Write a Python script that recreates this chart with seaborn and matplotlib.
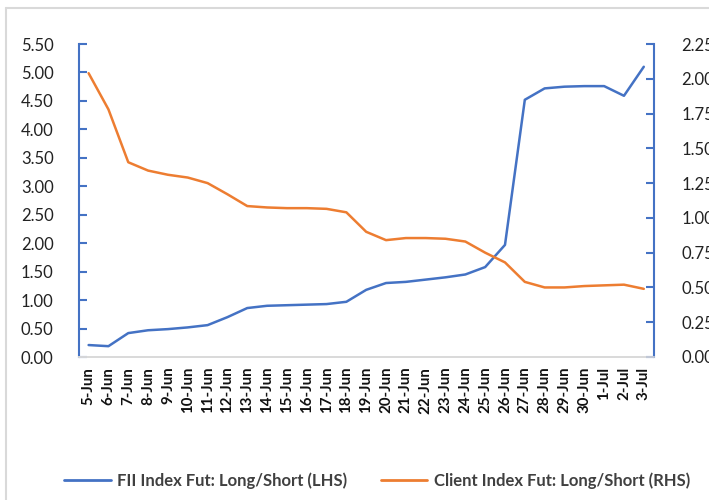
import matplotlib
matplotlib.use('Agg')
import pandas as pd
import matplotlib.pyplot as plt
import seaborn as sns
from matplotlib.lines import Line2D

dates = ['5-Jun', '6-Jun', '7-Jun', '8-Jun', '9-Jun', '10-Jun', '11-Jun', '12-Jun',
         '13-Jun', '14-Jun', '15-Jun', '16-Jun', '17-Jun', '18-Jun', '19-Jun', '20-Jun',
         '21-Jun', '22-Jun', '23-Jun', '24-Jun', '25-Jun', '26-Jun', '27-Jun', '28-Jun',
         '29-Jun', '30-Jun', '1-Jul', '2-Jul', '3-Jul']

fii = [0.21, 0.19, 0.42, 0.47, 0.49, 0.52, 0.56, 0.70, 0.86, 0.90, 0.91, 0.92, 0.93,
       0.97, 1.18, 1.30, 1.32, 1.36, 1.40, 1.45, 1.58, 1.97, 4.52, 4.72, 4.75, 4.76,
       4.76, 4.59, 5.10]

client = [2.04, 1.78, 1.40, 1.34, 1.31, 1.29, 1.25, 1.17, 1.085, 1.075, 1.07, 1.07,
          1.065, 1.04, 0.90, 0.84, 0.855, 0.855, 0.85, 0.83, 0.75, 0.68, 0.54, 0.50,
          0.50, 0.51, 0.515, 0.52, 0.49]

fii_label = 'FII Index Fut: Long/Short (LHS)'
client_label = 'Client Index Fut: Long/Short (RHS)'

df = pd.DataFrame({'date': dates, 'fii': fii, 'client': client})
df['pos'] = range(len(df))

sns.set_style('white')
plt.rcParams['font.family'] = ['Lato', 'DejaVu Sans']

blue = '#4472C4'
orange = '#ED7D31'
grey = '#D9D9D9'

fig = plt.figure(figsize=(7.09, 5.0), dpi=100)
ax = fig.add_axes([0.111, 0.286, 0.811, 0.626])
ax2 = ax.twinx()

sns.lineplot(data=df, x='pos', y='fii', ax=ax, color=blue, linewidth=1.8)
sns.lineplot(data=df, x='pos', y='client', ax=ax2, color=orange, linewidth=1.8)

n = len(dates)
ax.set_xlim(-0.5, n - 0.5)
ax.set_ylim(0, 5.5)
ax2.set_ylim(0, 2.25)
ax.set_yticks([i * 0.5 for i in range(12)])
ax2.set_yticks([i * 0.25 for i in range(10)])
ax.set_yticklabels([f'{i * 0.5:.2f}' for i in range(12)], fontsize=12, color='#222222')
ax2.set_yticklabels([f'{i * 0.25:.2f}' for i in range(10)], fontsize=12, color='#222222')

ax.set_xticks(range(n))
ax.set_xticklabels(dates, rotation=90, fontsize=10.8, fontweight='bold', color='#111111')
ax.set_xticks([i - 0.5 for i in range(n + 1)], minor=True)
ax.tick_params(axis='x', which='major', length=0, pad=7)
ax.tick_params(axis='x', which='minor', length=5, color=grey, direction='out')

ax.tick_params(axis='y', direction='in', length=6, width=1.5, color=blue, pad=18)
ax2.tick_params(axis='y', direction='in', length=6, width=1.5, color=blue, pad=20)

ax.set_xlabel('')
ax.set_ylabel('')
ax2.set_ylabel('')

for a in (ax, ax2):
    a.spines['top'].set_visible(False)
    a.spines['left'].set_color(blue)
    a.spines['left'].set_linewidth(1.5)
    a.spines['right'].set_color(blue)
    a.spines['right'].set_linewidth(1.5)
    a.spines['bottom'].set_color(grey)
    a.spines['bottom'].set_linewidth(1.2)
ax.spines['right'].set_visible(False)
ax2.spines['left'].set_visible(False)

handles = [Line2D([0], [0], color=blue, lw=2), Line2D([0], [0], color=orange, lw=2)]
fig.legend(handles, [fii_label, client_label], loc='center', bbox_to_anchor=(0.532, 0.038),
           ncol=2, frameon=False, prop={'size': 12, 'weight': 'bold'},
           handlelength=2.8, columnspacing=2.0, handletextpad=0.4, labelcolor='#404040')

# chart area frame
fig.add_artist(Line2D([0.0085, 0.0085], [0, 0.984], color=grey, lw=1.5, transform=fig.transFigure))
fig.add_artist(Line2D([0.0085, 1.0], [0.984, 0.984], color=grey, lw=1.5, transform=fig.transFigure))

fig.savefig('out.png', dpi=100)
